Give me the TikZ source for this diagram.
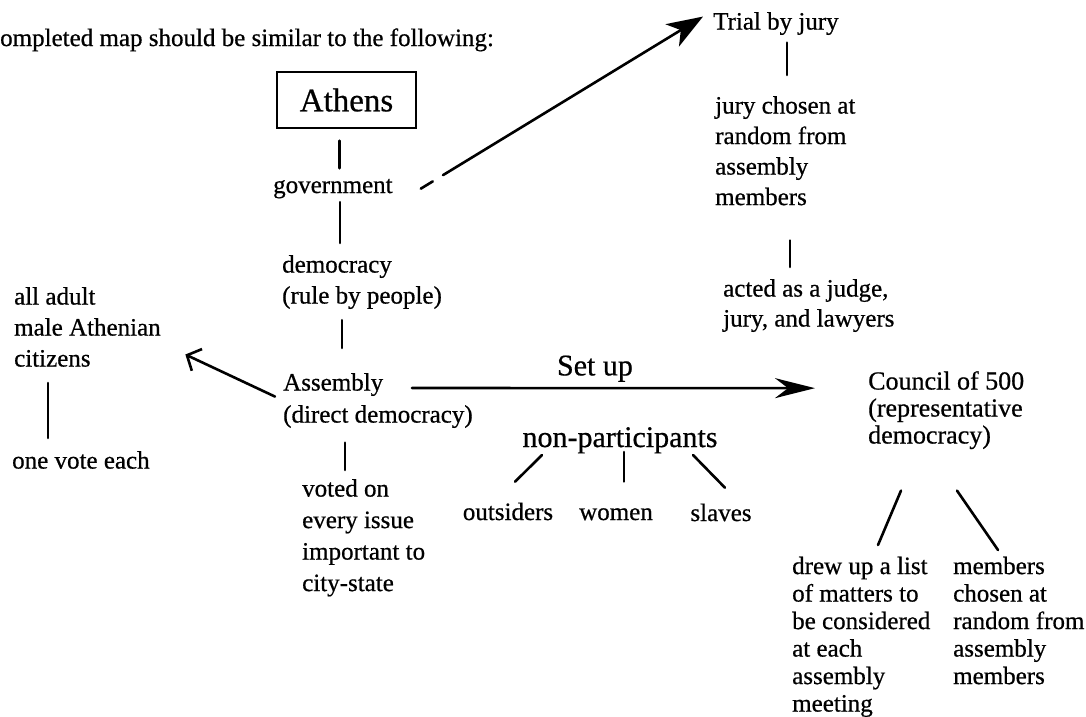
\documentclass[tikz,border=0pt]{standalone}
\usepackage{fontspec}
\setmainfont{Liberation Serif}[FakeBold=0.6]
\usetikzlibrary{arrows.meta}
\begin{document}
\begin{tikzpicture}[x=1pt,y=-1pt,
  txt/.style={inner sep=0pt, align=left, anchor=north west},
  body/.style={font=\fontsize{25}{#1}\selectfont},
  body/.default=30,
  big/.style={font=\fontsize{30}{34}\selectfont},
  conn/.style={line width=2.6pt, line cap=round},
  bigtip/.style={-{Stealth[length=40pt,width=20pt,inset=13pt]}},
  opentip/.style={-{Straight Barb[length=11pt,width=24pt]}}]
\fill[white] (0,0) rectangle (1086,716);
\useasboundingbox (0,0) rectangle (1086,716);

% heading
\node[inner sep=0pt, anchor=base west, font=\fontsize{25}{30}\selectfont] (head) at (0,46) {ompleted map should be similar to the following:};

% main column
\node[draw, line width=1.4pt, minimum width=139pt, minimum height=56pt, inner sep=0pt,
      font=\fontsize{33}{40}\selectfont] (athens) at (346.5,100) {Athens};
\node[inner sep=0pt, anchor=base west, body] (gov) at (273,193) {government};
\node[txt, body=31] (demo) at (282,255) {democracy\\(rule by people)};
\node[txt, body=32] (assem) at (283,373) {Assembly\\(direct democracy)};
\node[txt, body=31.5] (voted) at (302,479) {voted on\\every issue\\important to\\city-state};

% left column
\node[txt, body=31] (adult) at (14,287) {all adult\\male Athenian\\citizens};
\node[txt, body] (onevote) at (12,451) {one vote each};

% trial column
\node[txt, body] (trial) at (713,12) {Trial by jury};
\node[txt, body=30.5] (jury) at (715,96) {jury chosen at\\random from\\assembly\\members};
\node[txt, body] (acted) at (723,279) {acted as a judge,\\jury, and lawyers};

% non-participants
\node[inner sep=0pt, anchor=base, big] (nonp) at (620,447) {non-participants};
\node[inner sep=0pt, anchor=base, body] (outs) at (508,520) {outsiders};
\node[inner sep=0pt, anchor=base, body] (women) at (616,520) {women};
\node[inner sep=0pt, anchor=base, body] (slaves) at (721,521) {slaves};

% council column
\node[txt, font=\fontsize{26}{27}\selectfont] (council) at (868,371) {Council of 500\\(representative\\democracy)};
\node[txt, body=27.5] (drew) at (792,556.5) {drew up a list\\of matters to\\be considered\\at each\\assembly\\meeting};
\node[txt, body=27.5] (members) at (953,556.5) {members\\chosen at\\random from\\assembly\\members};

% vertical connectors
\draw[conn, shorten <=12pt, shorten >=10.5pt] ([xshift=63pt]athens.south west) -- ([xshift=63pt]athens.south west |- gov.north);
\draw[conn, shorten <=3.5pt, shorten >=12pt] ([xshift=67pt]gov.south west) -- ([xshift=67pt]gov.south west |- demo.north);
\draw[conn, shorten <=11pt, shorten >=25pt] ([xshift=60pt]demo.south west) -- ([xshift=60pt]demo.south west |- assem.north);
\draw[conn, shorten <=14.5pt, shorten >=9pt] ([xshift=62pt]assem.south west) -- ([xshift=62pt]assem.south west |- voted.north);
\draw[conn, shorten <=16pt, shorten >=13pt] ([xshift=34pt]adult.south west) -- ([xshift=34pt]adult.south west |- onevote.north);
\draw[conn, shorten <=7.5pt, shorten >=21pt] ([xshift=74pt]trial.south west) -- ([xshift=74pt]trial.south west |- jury.north);
\draw[conn, shorten <=35pt, shorten >=12pt] ([xshift=75pt]jury.south west) -- ([xshift=75pt]jury.south west |- acted.north);

% arrows
\draw[conn, opentip] ([shift={(-8pt,4pt)}]assem.west) -- ([shift={(24.5pt,-27.5pt)}]adult.east);
\draw[conn, -{Stealth[length=36pt,width=26pt,inset=10pt]}, dash pattern=on 14pt off 12pt on 400pt]
  ([xshift=28pt]gov.east) -- ([shift={(-10pt,7pt)}]trial.west);
\draw[conn, bigtip] ([shift={(129pt,-15pt)}]assem.north west) -- node[pos=0.454, above=5pt, inner sep=0pt, big] (setup) {Set up} ([shift={(-53pt,22pt)}]council.west);

% non-participants branches
\draw[conn] ([shift={(-78pt,-8pt)}]nonp.base) -- ([shift={(7pt,20.7pt)}]outs.north);
\draw[conn] ([shift={(4pt,-5pt)}]nonp.base) -- ([shift={(8pt,26.5pt)}]women.north);
\draw[conn] ([shift={(73pt,-8pt)}]nonp.base) -- ([shift={(4pt,15.7pt)}]slaves.north);

% council branches
\draw[conn] ([shift={(33pt,-41.3pt)}]council.south west) -- ([shift={(86pt,11.5pt)}]drew.north west);
\draw[conn] ([shift={(89pt,-41.3pt)}]council.south west) -- ([shift={(45pt,6.5pt)}]members.north west);
\end{tikzpicture}
\end{document}
